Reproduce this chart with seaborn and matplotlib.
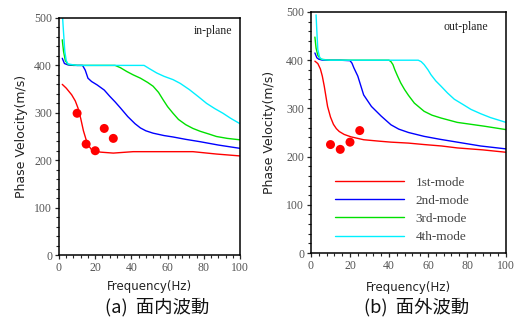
import numpy as np
import pandas as pd
import matplotlib
matplotlib.use("Agg")
import matplotlib.pyplot as plt
from matplotlib.ticker import MultipleLocator
import seaborn as sns

# ---------------- data ----------------
modes = ["1st-mode", "2nd-mode", "3rd-mode", "4th-mode"]
mode_colors = ["#ff0000", "#0000ff", "#00e000", "#00f0ff"]

# in-plane
f1_in = [1.8, 4, 7, 9, 10.5, 12, 13.5, 15, 16.5, 18, 20, 23, 30, 41, 59, 74, 87, 100]
v1_in = [360, 352, 338, 325, 310, 288, 262, 243, 230, 222, 219, 217, 215, 218, 218, 218, 213, 209]
f2_in = [1.8, 3, 5, 8, 13, 14.5, 16, 18, 21, 25, 28, 31, 34, 38, 42, 45, 48, 52, 58, 63, 70, 78, 88, 100]
v2_in = [415, 404, 401, 400, 400, 390, 373, 366, 359, 348, 335, 323, 310, 292, 277, 268, 262, 257, 252, 249, 244, 239, 232, 225]
f3_in = [1.8, 2.5, 3.5, 5, 10, 20, 31, 34, 37.5, 41, 45, 49, 52, 55, 57.6, 60, 63, 66, 70, 74, 78, 83, 87, 93, 100]
v3_in = [454, 430, 410, 402, 400, 400, 400, 395, 387, 380, 373, 364, 356, 343, 327, 313, 299, 286, 275, 267, 261, 255, 250, 246, 243]
f4_in = [2, 2.5, 3.2, 4, 5, 10, 20, 30, 40, 47, 50, 54, 58, 63, 67, 72, 77, 81.5, 86, 90.6, 95, 100]
v4_in = [500, 470, 430, 410, 403, 400, 400, 400, 400, 400, 393, 384, 377, 370, 362, 349, 334, 320, 309, 299, 288, 277]
obs_f_in = [10, 15, 20, 25, 30]
obs_v_in = [299, 234, 220, 267, 246]

# out-plane
f1_out = [2, 3.5, 4.8, 5.8, 6.8, 8.5, 10, 11.5, 13, 14.5, 17, 20.5, 27, 35, 41, 50, 58, 67, 75, 88, 100]
v1_out = [398, 393, 382, 367, 346, 304, 282, 267, 258, 252, 246, 241, 235, 232, 230, 228, 225, 222, 218, 214, 209]
f2_out = [2, 3, 4, 6, 10, 15, 20, 21, 22, 24, 27, 31, 36, 41, 45, 50, 58, 66, 75, 87, 100]
v2_out = [415, 405, 402, 400, 400, 400, 399, 394, 384, 367, 328, 304, 284, 266, 257, 250, 242, 236, 230, 222, 216]
f3_out = [2, 2.6, 3.5, 5, 10, 20, 30, 40, 41, 42, 43, 44.4, 46, 48, 50, 53, 58, 62, 66.7, 75, 82, 89, 100]
v3_out = [448, 425, 410, 402, 400, 400, 400, 400, 397, 391, 380, 367, 353, 339, 327, 311, 294, 286, 280, 271, 267, 263, 256]
f4_out = [2.6, 3, 3.5, 4.5, 6, 10, 20, 30, 40, 50, 55, 56.5, 58, 60, 61.5, 64, 66.7, 70, 73.5, 78, 82, 87, 92, 100]
v4_out = [494, 460, 422, 405, 401, 400, 400, 400, 400, 400, 400, 397, 391, 380, 370, 357, 346, 332, 319, 308, 298, 289, 281, 271]
obs_f_out = [10, 15, 20, 25]
obs_v_out = [225, 215, 230, 254]

x_ticks = [0, 20, 40, 60, 80, 100]
y_ticks = [0, 100, 200, 300, 400, 500]
x_label = "Frequency(Hz)"
y_label = "Phase Velocity(m/s)"
panel_tags = ["in-plane", "out-plane"]
captions = ["(a)  面内波動", "(b)  面外波動"]


def long_df(fs, vs):
    rows = []
    for m, f, v in zip(modes, fs, vs):
        for a, b in zip(f, v):
            rows.append((m, a, b))
    return pd.DataFrame(rows, columns=["mode", "f", "v"])


df_in = long_df([f1_in, f2_in, f3_in, f4_in], [v1_in, v2_in, v3_in, v4_in])
df_out = long_df([f1_out, f2_out, f3_out, f4_out], [v1_out, v2_out, v3_out, v4_out])
obs_in = pd.DataFrame({"f": obs_f_in, "v": obs_v_in})
obs_out = pd.DataFrame({"f": obs_f_out, "v": obs_v_out})

# ---------------- style ----------------
sns.set_style("ticks")
plt.rcParams["font.family"] = ["DejaVu Sans"]
plt.rcParams.update({
    "axes.linewidth": 1.1,
    "xtick.direction": "out",
    "ytick.direction": "out",
    "xtick.major.size": 3,
    "ytick.major.size": 3,
    "xtick.minor.size": 2.2,
    "ytick.minor.size": 2.2,
    "xtick.major.width": 0.9,
    "ytick.major.width": 0.9,
    "xtick.minor.width": 0.8,
    "ytick.minor.width": 0.8,
})

fig = plt.figure(figsize=(5.18, 3.26), dpi=100)
ax_in = fig.add_axes([59 / 518, 1 - 255 / 326, 181 / 518, 237 / 326])
ax_out = fig.add_axes([311 / 518, 1 - 253 / 326, 195 / 518, 241 / 326])

palette = dict(zip(modes, mode_colors))
serif = ["Liberation Serif", "DejaVu Serif"]

for ax, df, obs, tag, tagpos in [
    (ax_in, df_in, obs_in, panel_tags[0], (95.5, 472)),
    (ax_out, df_out, obs_out, panel_tags[1], (91, 469)),
]:
    sns.lineplot(data=df, x="f", y="v", hue="mode", palette=palette,
                 estimator=None, sort=False, linewidth=1.0, ax=ax,
                 legend=(ax is ax_out))
    sns.scatterplot(data=obs, x="f", y="v", color="#ff0000", s=42,
                    edgecolor="none", ax=ax, zorder=5)
    ax.set_xlim(0, 100)
    ax.set_ylim(0, 500)
    ax.set_xticks(x_ticks)
    ax.set_yticks(y_ticks)
    ax.xaxis.set_minor_locator(MultipleLocator(4))
    ax.yaxis.set_minor_locator(MultipleLocator(20))
    for s in ax.spines.values():
        s.set_visible(True)
        s.set_color("black")
    for lab in ax.get_xticklabels() + ax.get_yticklabels():
        lab.set_family(serif)
        lab.set_fontsize(8.5)
        lab.set_color("#555555")
    ax.tick_params(axis="both", pad=2)
    ax.set_xlabel(x_label, fontsize=8.5, color="#222222")
    ax.set_ylabel(y_label, fontsize=9, color="#222222")
    ax.text(tagpos[0], tagpos[1], tag, ha="right", va="center",
            family=serif, fontsize=8.5, color="#222222")

ax_in.xaxis.set_label_coords(0.5, -0.105)
ax_in.yaxis.set_label_coords(-0.17, 0.5)
ax_out.xaxis.set_label_coords(0.5, -0.115)
ax_out.yaxis.set_label_coords(-0.18, 0.5)

handles, labels = ax_out.get_legend_handles_labels()
leg = ax_out.legend(handles[:4], labels[:4], loc="upper left",
                    bbox_to_anchor=(0.09, 0.345), frameon=False,
                    handlelength=5.2, handletextpad=0.9, labelspacing=0.45,
                    borderpad=0, prop={"family": serif, "size": 9.5})
for t in leg.get_texts():
    t.set_color("#444444")
for l in leg.get_lines():
    l.set_linewidth(1.0)

cjk = ["Noto Sans CJK JP", "DejaVu Sans"]
fig.text(157 / 518, 1 - 307 / 326, captions[0], ha="center", va="center",
         family=cjk, fontsize=13.2, color="#111111")
fig.text(417 / 518, 1 - 307 / 326, captions[1], ha="center", va="center",
         family=cjk, fontsize=13.2, color="#111111")

fig.savefig("out.png", dpi=100)
